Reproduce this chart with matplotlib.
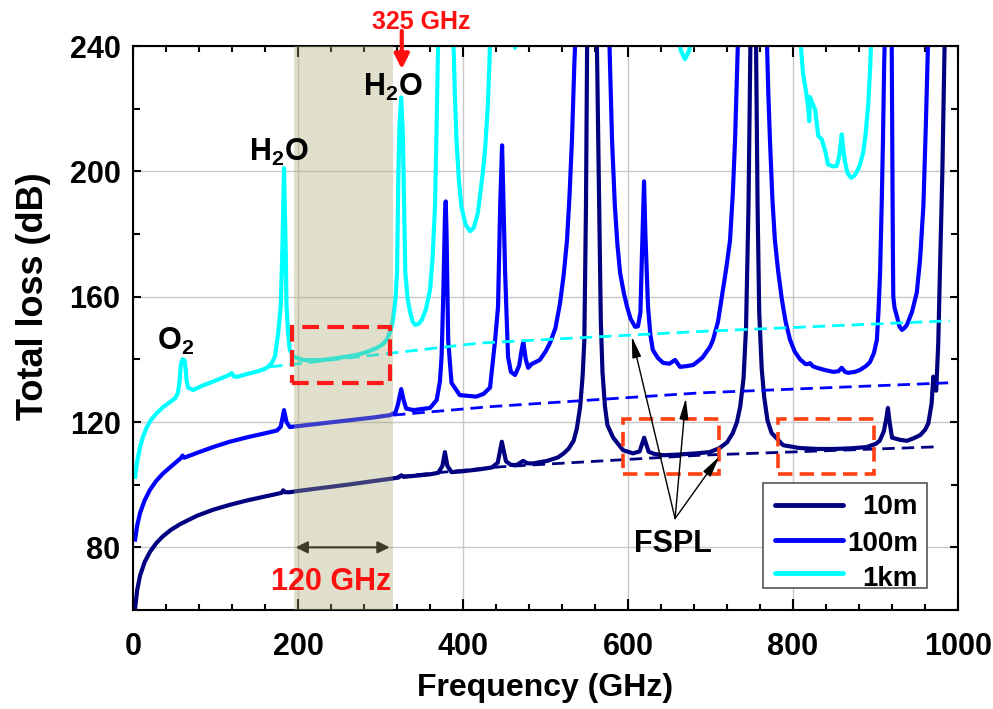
import matplotlib
matplotlib.use("Agg")
import matplotlib.pyplot as plt
from matplotlib.patches import Rectangle
from matplotlib.ticker import MultipleLocator

plt.rcParams["font.family"] = ["Liberation Sans", "DejaVu Sans"]
plt.rcParams["font.weight"] = "bold"
plt.rcParams["axes.labelweight"] = "bold"
plt.rcParams["mathtext.fontset"] = "custom"
plt.rcParams["mathtext.rm"] = "Liberation Sans:bold"
plt.rcParams["mathtext.bf"] = "Liberation Sans:bold"
plt.rcParams["mathtext.it"] = "Liberation Sans:bold"
plt.rcParams["mathtext.default"] = "bf"

# values, 260 = above the top of the plot
freq_10m = [2.5, 5, 8.5, 14, 20.6, 28, 36, 46, 57, 77.6, 97, 117.6, 137, 157.6, 175, 180, 182, 184,
            190, 200, 230, 260, 290, 315, 322, 325, 328, 340, 360, 370, 375, 378, 381, 386, 400, 420,
            435, 442, 447, 452, 458, 465, 473, 478, 485, 502, 515, 522, 528, 534, 538, 542, 545, 547, 549,
            550.5, 553, 556, 559, 562, 565, 567, 569, 572, 575, 582, 594, 606, 614, 619.5, 625, 632, 643,
            660, 683, 699, 711, 720, 727, 732, 736, 740, 743, 746, 748.5, 752, 755, 757, 759, 762, 765, 769, 774,
            788, 808, 830, 849, 870, 889, 900, 905, 910, 913, 915, 917, 920, 930, 938, 946, 954, 960,
            964, 968, 970, 972, 973.5, 976, 978, 981, 984, 990, 1000]
loss_10m = [60.6, 66.4, 71, 75.3, 78.6, 81.3, 83.5, 85.6, 87.4, 90.1, 92, 93.6, 94.9, 96.1, 97.1, 97.4, 98.2, 97.6,
            97.6, 98, 99, 100, 101.1, 102, 102.3, 103, 102.5, 102.8, 103.3, 103.8, 106, 110.4, 106, 104, 104.3, 104.9,
            105.5, 107, 113.7, 107.5, 106.3, 106.3, 107.6, 106.8, 106.8, 107.6, 108.7, 110, 111.5, 114, 118, 125, 135, 146, 189,
            245, 260, 260, 260, 245, 189, 152, 136, 125, 119, 115, 111, 110, 110.6, 115, 110.5, 109.8, 109.4,
            109.6, 110, 110.4, 111.7, 113.5, 116.5, 120, 125, 134, 150, 189, 245, 260, 245, 189, 155, 137, 128, 120.5, 116.5,
            112.6, 111.7, 111.4, 111.4, 111.6, 112, 113, 114, 117, 121, 124.5, 120, 115, 114.3, 114, 114.8, 115.8, 117.5,
            119.6, 126, 134.5, 131.5, 130, 145, 167.6, 200, 245, 260, 260]

freq_100m = [2.5, 5, 8.5, 14, 20.6, 28, 36, 46, 55, 58, 60, 62, 65, 80, 97, 117, 138, 160, 174.5, 179, 183,
             186, 190, 200, 230, 260, 290, 311.5, 318, 321, 325, 328, 331, 340, 360, 368, 372, 374, 376, 378,
             379, 380, 382, 386, 396, 416, 425, 432.7, 438.8, 442.4, 445, 447.3, 449, 451, 454.5, 458, 463,
             468, 471, 473, 476, 479, 483, 487, 493, 500, 505.5, 512, 517.6, 522, 526, 529, 532, 535, 536.5,
             540, 556, 575, 577, 578.5, 580.6, 584, 587, 590.3, 595, 598.8, 603, 608.5, 612, 615, 617, 619.4,
             621, 624.2, 627, 630, 636, 642.4, 650, 657, 663, 670, 679, 690, 699.4, 703, 709, 715, 719, 723.6,
             727, 729.7, 732, 733.6, 740, 760, 768, 770, 772, 775, 778, 782, 786.5, 791, 796.4, 802, 808.5,
             815, 818, 820.6, 824, 829, 840, 849, 855, 859, 863, 866.7, 875, 881, 888, 893, 898, 901.6, 903.5,
             905.5, 907.5, 909, 910.5, 911.5, 915, 919.5, 921, 921.5, 923, 926, 929, 932, 935, 938, 944, 950,
             954, 958, 961, 964, 970, 1000]
loss_100m = [82.5, 87, 91, 95, 98.4, 101.2, 103.5, 105.8, 107.8, 108.5, 109.3, 108.6, 108.9, 110.4, 112, 113.7, 115.1, 116.4, 117.3, 118.5, 123.8,
             120, 118.4, 118.7, 119.6, 120.5, 121.4, 122.2, 123, 125.5, 130.5, 127, 124.3, 123.8, 124.5, 127, 133, 141, 160, 185,
             190.4, 180, 146, 132.5, 128.6, 128.1, 129, 131, 146, 156.8, 189, 208.3, 190, 167.7, 140.8, 136, 135,
             138, 143, 145.6, 140, 137.3, 138.5, 139, 139.8, 142.5, 145.3, 150, 158, 167, 178, 192, 210, 235, 245,
             260, 260, 260, 245, 230, 210, 189, 177, 167.7, 161, 156.8, 153, 150.4, 150.5, 155, 175, 196.8,
             180, 156.8, 148, 143, 140.5, 138.9, 138.6, 139.8, 137.6, 137.8, 138.2, 140.5, 144, 146.2, 152, 162.2, 169, 178,
             193, 210, 230, 245, 260, 260, 245, 225, 210, 191, 178, 168, 159, 152, 146.2, 142.5, 140,
             138.5, 138.5, 138.8, 137.8, 137.3, 136.5, 136, 136.2, 137.3, 136, 135.7, 136, 136.6, 137.8, 139, 142, 146.2, 155,
             167.7, 190, 210, 235, 245, 260, 245, 175, 160, 156.5, 153.6, 150.5, 149.4, 150, 151, 155, 161.3,
             172, 189, 215, 245, 260, 260]

freq_1km = [2.5, 5, 8.5, 12, 16.6, 22, 28.7, 36, 45, 51, 54, 56, 58, 60, 62, 63, 65, 66.7, 72.7, 85, 97,
            110, 116, 119.6, 122, 125.7, 138, 150, 160, 164, 168, 172, 176, 179, 181, 183, 185, 186, 188,
            190, 194, 198, 206, 220, 230, 250, 271, 285, 295, 302, 307.5, 312, 315, 318, 320, 321.6, 323,
            325, 327, 328.5, 330, 333, 336, 339, 342, 346, 350, 355, 360, 363, 366, 368, 370, 375, 385, 388,
            390, 392, 395, 398, 403, 408.5, 413, 418, 424, 427, 430, 432, 433, 440, 458, 460, 463, 466, 470,
            655, 660, 664, 669, 674, 678, 685, 800, 808, 812, 816.6, 818.5, 819.6, 820.6, 823, 826.7, 830.6,
            834.8, 839, 842.4, 848.5, 853, 856, 859, 861, 863, 866, 870, 874, 877, 881, 885, 888, 891, 893.5,
            895, 900, 1000]
loss_1km = [102.5, 107.5, 112, 115.3, 118.3, 120.8, 122.8, 124.7, 126.4, 127.6, 129, 132, 138.5, 140, 139.8, 139, 133, 131, 130.2, 131.7, 132.9,
            134.3, 135, 135.6, 134.6, 134.4, 135.3, 136.1, 137, 137.7, 138.8, 140.9, 148.5, 157, 175, 201, 175, 157, 148,
            143, 141, 140.5, 139.8, 139.7, 139.8, 140.5, 141.4, 142.5, 143.6, 144.7, 146.2, 149, 152.6, 159, 167.7, 199.7, 215,
            223.6, 212, 190, 167.7, 159, 154.9, 152, 151, 151.3, 152.6, 156, 162.2, 172, 189, 215, 245, 260, 260, 245,
            225, 210.2, 197, 188.8, 183, 180.9, 182, 186.8, 199.7, 208, 220.8, 235, 245, 260, 260, 250, 239.5, 250, 260,
            260, 245, 238.5, 235.8, 238.5, 245, 260, 260, 245, 231.6, 224, 220, 216, 223.7, 222, 219.8, 211.3,
            210.2, 206.5, 202.2, 201.6, 201.7, 205, 211.8, 207, 202.9, 199.5, 198, 198.5, 199.7, 202, 206, 212, 220.9, 233,
            245, 260, 260]

# free space path loss, dashed
fspl_freq_10m = [320, 445, 687, 976]
fspl_10m = [102.6, 105.7, 109.4, 112.1]
fspl_freq_100m = [315, 433, 687, 988]
fspl_100m = [122.2, 124.9, 129.3, 132.5]
fspl_freq_1km = [166, 420, 687, 990]
fspl_1km = [137.6, 145.2, 148.9, 152.3]

labels = ["10m", "100m", "1km"]
colors = ["#000080", "#0000ff", "#00ffff"]

fig = plt.figure(figsize=(9.93, 7.09), dpi=100)
ax = fig.add_axes([0.134, 0.1396, 0.8308, 0.7955])

ax.plot(freq_10m, loss_10m, color=colors[0], lw=3, zorder=2)
ax.plot(freq_100m, loss_100m, color=colors[1], lw=3, zorder=2)
ax.plot(freq_1km, loss_1km, color=colors[2], lw=3, zorder=2)
ax.plot(fspl_freq_10m, fspl_10m, color=colors[0], lw=2, ls=(0, (4.5, 2.5)), zorder=2.5)
ax.plot(fspl_freq_100m, fspl_100m, color=colors[1], lw=2, ls=(0, (4.5, 2.5)), zorder=2.5)
ax.plot(fspl_freq_1km, fspl_1km, color=colors[2], lw=2, ls=(0, (4.5, 2.5)), zorder=2.5)

# 120 GHz window
ax.annotate("", xy=(197, 80), xytext=(311, 80), zorder=2,
            arrowprops=dict(arrowstyle="<|-|>", color="black", lw=1.5, mutation_scale=18, shrinkA=0, shrinkB=0))
ax.axvspan(195, 315, color="#a8a870", alpha=0.36, lw=0, zorder=3)
ax.text(240, 69, "120 GHz", color="#ff1010", fontsize=22, ha="center", va="center", zorder=5)

# dashed boxes
ax.add_patch(Rectangle((193, 132.4), 118.5, 17.8, fill=False, edgecolor="#ff1a1a", lw=3, ls=(0, (4, 2)), zorder=5))
ax.add_patch(Rectangle((594.3, 103.4), 116.4, 17.5, fill=False, edgecolor="#ff4010", lw=2.6, ls=(0, (4, 2)), zorder=5))
ax.add_patch(Rectangle((782, 103.4), 116.5, 17.5, fill=False, edgecolor="#ff4010", lw=2.6, ls=(0, (4, 2)), zorder=5))

# labels on the absorption lines
ax.text(51, 143, "O$_2$", fontsize=22, ha="center", va="baseline", zorder=5)
ax.text(177, 203.3, "H$_2$O", fontsize=22, ha="center", va="baseline", zorder=5)
ax.text(314.5, 224.1, "H$_2$O", fontsize=22, ha="center", va="baseline", zorder=5)
ax.text(349, 245.4, "325 GHz", color="#ff1010", fontsize=18, ha="center", va="baseline", clip_on=False)
ax.annotate("", xy=(325.7, 232.6), xytext=(325.7, 244.8), annotation_clip=False, zorder=6,
            arrowprops=dict(arrowstyle="-|>", color="#ff1010", lw=3, mutation_scale=22, shrinkA=0, shrinkB=0))

# FSPL pointers
ax.text(654.5, 81, "FSPL", fontsize=22, ha="center", va="center", zorder=5)
for tx, ty in [(604.5, 147.3), (670, 127.6), (710.7, 109)]:
    ax.annotate("", xy=(tx, ty), xytext=(657, 89.2), zorder=5,
                arrowprops=dict(arrowstyle="-|>,head_length=0.8,head_width=0.17", color="black", lw=1,
                                mutation_scale=16, shrinkA=0, shrinkB=0))

# legend drawn by hand so the labels are right aligned
ax.add_patch(Rectangle((0.7636, 0.039), 0.1988, 0.1866, transform=ax.transAxes, facecolor="white",
                       edgecolor="#555555", lw=1.2, zorder=6))
for lab, col, ly, ty in zip(labels, colors, [0.1865, 0.1243, 0.0657], [0.183, 0.117, 0.055]):
    ax.plot([0.778, 0.861], [ly, ly], transform=ax.transAxes, color=col, lw=3.5, solid_capstyle="round", zorder=7)
    ax.text(0.9515, ty, lab, transform=ax.transAxes, fontsize=20, ha="right", va="center", zorder=7)

ax.set_xlim(0, 1000)
ax.set_ylim(60, 240)
ax.xaxis.set_major_locator(MultipleLocator(200))
ax.xaxis.set_minor_locator(MultipleLocator(40))
ax.yaxis.set_major_locator(MultipleLocator(40))
ax.yaxis.set_minor_locator(MultipleLocator(20))
ax.set_yticks([80, 120, 160, 200, 240])
ax.grid(True, which="major", color="#c8c8c8", lw=1)
ax.set_axisbelow(True)
ax.tick_params(axis="both", which="both", direction="in", top=True, right=True, width=1.5, labelsize=22)
ax.tick_params(axis="x", which="major", length=8, pad=16)
ax.tick_params(axis="x", which="minor", length=4)
ax.tick_params(axis="y", which="major", length=5.5, pad=9)
ax.tick_params(axis="y", which="minor", length=5)
for sp in ax.spines.values():
    sp.set_linewidth(1.5)

ax.set_xlabel("Frequency (GHz)", fontsize=23, labelpad=8)
ax.set_ylabel("Total loss (dB)", fontsize=26)
ax.yaxis.set_label_coords(-0.1, 0.556)

fig.savefig("out.png", dpi=100)
